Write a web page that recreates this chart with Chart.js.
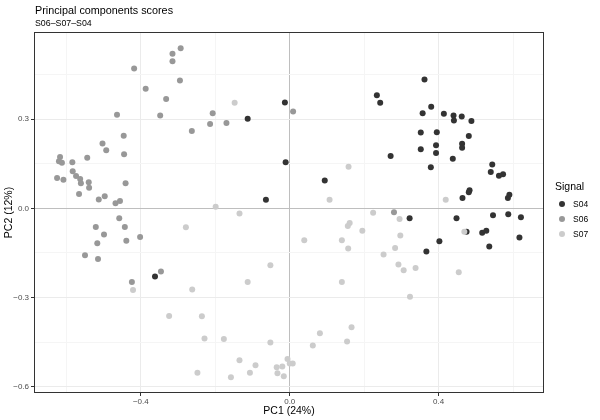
<!DOCTYPE html>
<html>
<head>
<meta charset="utf-8">
<script src="https://cdn.jsdelivr.net/npm/chart.js@4"></script>
<style>
  html, body { margin: 0; padding: 0; background: #fff; }
  #wrap { width: 600px; height: 420px; }
</style>
</head>
<body>
<div id="wrap"><canvas id="chart" width="600" height="420"></canvas></div>
<script>
const seriesNames = ['S04', 'S06', 'S07'];
const seriesColors = ['#333333', '#989898', '#CCCCCC'];

// PC1 / PC2 scores
const s04x = [-0.013, -0.113, -0.011, -0.064, -0.362, 0.362, 0.234, 0.243, 0.380, 0.357, 0.414, 0.440, 0.441, 0.462, 0.488, 0.352,
  0.395, 0.481, 0.463, 0.463, 0.393, 0.352, 0.393, 0.271, 0.438, 0.379, 0.544, 0.540, 0.562, 0.573, 0.094, 0.464,
  0.483, 0.481, 0.586, 0.590, 0.322, 0.448, 0.546, 0.587, 0.621, 0.475, 0.517, 0.528, 0.402, 0.367, 0.536, 0.617];
const s04y = [0.356, 0.301, 0.155, 0.029, -0.229, 0.433, 0.380, 0.355, 0.342, 0.320, 0.318, 0.312, 0.295, 0.309, 0.294, 0.255,
  0.256, 0.243, 0.217, 0.204, 0.212, 0.199, 0.186, 0.176, 0.167, 0.138, 0.147, 0.122, 0.110, 0.115, 0.094, 0.035,
  0.061, 0.054, 0.035, 0.046, -0.033, -0.033, -0.023, -0.020, -0.030, -0.079, -0.082, -0.075, -0.111, -0.145, -0.128, -0.098];

const s06x = [-0.293, -0.315, -0.315, -0.418, -0.295, -0.387, -0.332, 0.009, -0.464, -0.348, -0.207, -0.214, -0.170, -0.263, -0.446, -0.503,
  -0.493, -0.445, -0.617, -0.620, -0.612, -0.584, -0.544, -0.583, -0.574, -0.563, -0.561, -0.540, -0.539, -0.625, -0.608, -0.441,
  -0.566, -0.513, -0.497, -0.468, -0.456, -0.458, -0.521, -0.443, -0.499, -0.517, -0.439, -0.402, -0.550, -0.515, -0.346, -0.424, 0.280];
const s06y = [0.538, 0.520, 0.495, 0.470, 0.430, 0.402, 0.368, 0.326, 0.315, 0.312, 0.320, 0.284, 0.287, 0.260, 0.244, 0.218,
  0.195, 0.182, 0.173, 0.158, 0.153, 0.155, 0.170, 0.125, 0.109, 0.099, 0.084, 0.088, 0.069, 0.102, 0.096, 0.084,
  0.048, 0.030, 0.041, 0.017, 0.025, -0.033, -0.063, -0.063, -0.088, -0.117, -0.109, -0.096, -0.158, -0.170, -0.212, -0.248, -0.013];

const s07x = [-0.148, -0.199, -0.135, -0.279, -0.052, -0.421, -0.262, -0.113, -0.324, -0.236, -0.229, -0.177, -0.052, -0.135, -0.092, -0.006,
  0.008, -0.035, -0.020, -0.248, -0.158, -0.107, -0.033, -0.016, 0.158, 0.107, 0.419, 0.224, 0.295, 0.161, 0.156, 0.195,
  0.039, 0.140, 0.157, 0.297, 0.283, 0.252, 0.292, 0.306, 0.338, 0.469, 0.454, 0.140, 0.323, 0.166, 0.081, 0.062, 0.154, 0.000];
const s07y = [0.355, 0.005, -0.017, -0.064, -0.191, -0.275, -0.273, -0.248, -0.362, -0.363, -0.438, -0.439, -0.451, -0.511, -0.528, -0.507,
  -0.522, -0.534, -0.532, -0.553, -0.568, -0.553, -0.555, -0.565, 0.140, 0.029, 0.029, -0.015, -0.036, -0.049, -0.059, -0.075,
  -0.107, -0.107, -0.135, -0.091, -0.133, -0.155, -0.189, -0.208, -0.201, -0.079, -0.215, -0.248, -0.297, -0.400, -0.420, -0.461, -0.448, -0.522];

const xMin = -0.687, xMax = 0.683;
const yMin = -0.621, yMax = 0.593;

function pts(xs, ys) {
  return xs.map((x, i) => ({ x: x, y: ys[i] }));
}
function fmt(v) {
  return v.toFixed(1).replace('-', '\u2212');
}
function isMajor(v, step) {
  return Math.abs(Math.round(v / step)) % 2 === 0;
}

const allX = [s04x, s06x, s07x];
const allY = [s04y, s06y, s07y];
const datasets = seriesNames.map((name, i) => ({
  label: name,
  data: pts(allX[i], allY[i]),
  backgroundColor: seriesColors[i],
  borderWidth: 0,
  pointRadius: 3,
  order: 2 - i
}));

const FONT = "'Liberation Sans', Arial, sans-serif";

const decor = {
  id: 'decor',
  afterDraw(chart) {
    const ctx = chart.ctx;
    const a = chart.chartArea;
    ctx.save();
    // panel border
    ctx.strokeStyle = '#333333';
    ctx.lineWidth = 1;
    ctx.strokeRect(Math.round(a.left) + 0.5, Math.round(a.top) + 0.5,
      Math.round(a.right - a.left) - 1, Math.round(a.bottom - a.top) - 1);

    // titles
    ctx.fillStyle = '#000';
    ctx.textBaseline = 'alphabetic';
    ctx.textAlign = 'left';
    ctx.font = '10.8px ' + FONT;
    ctx.fillText('Principal components scores', 35, 14);
    ctx.font = '8.8px ' + FONT;
    ctx.fillText('S06\u2013S07\u2013S04', 35, 26);

    // axis titles
    ctx.font = '10.5px ' + FONT;
    ctx.textAlign = 'center';
    ctx.fillText('PC1 (24%)', (a.left + a.right) / 2, 414);
    ctx.save();
    ctx.translate(12, (a.top + a.bottom) / 2);
    ctx.rotate(-Math.PI / 2);
    ctx.fillText('PC2 (12%)', 0, 0);
    ctx.restore();

    // legend
    ctx.textAlign = 'left';
    ctx.font = '10.5px ' + FONT;
    ctx.fillText('Signal', 555, 190);
    ctx.font = '8.5px ' + FONT;
    ctx.textBaseline = 'middle';
    seriesNames.forEach((name, i) => {
      const cy = 204 + i * 15;
      ctx.beginPath();
      ctx.fillStyle = seriesColors[i];
      ctx.arc(562, cy, 3, 0, Math.PI * 2);
      ctx.fill();
      ctx.fillStyle = '#000';
      ctx.fillText(name, 573, cy + 0.5);
    });
    ctx.restore();
  }
};

const config = {
  type: 'scatter',
  data: { datasets },
  options: {
    responsive: false,
    animation: false,
    layout: { padding: { top: 32, right: 56, bottom: 0, left: 0 } },
    plugins: {
      legend: { display: false },
      tooltip: { enabled: false },
      title: { display: false }
    },
    scales: {
      x: {
        type: 'linear',
        min: xMin,
        max: xMax,
        afterFit(scale) { scale.height = 27; },
        border: { display: false },
        grid: {
          color: ctx => ctx.tick && Math.abs(ctx.tick.value) < 1e-9 ? '#BEBEBE'
            : (ctx.tick && isMajor(ctx.tick.value, 0.2) ? '#EBEBEB' : '#F5F5F5'),
          tickColor: ctx => ctx.tick && isMajor(ctx.tick.value, 0.2) ? '#333333' : 'rgba(0,0,0,0)',
          tickLength: 3,
          drawTicks: true
        },
        ticks: {
          stepSize: 0.2,
          includeBounds: false,
          maxRotation: 0,
          autoSkip: false,
          padding: 1,
          color: '#4D4D4D',
          font: { family: FONT, size: 8 },
          callback: v => isMajor(v, 0.2) ? fmt(v) : ''
        }
      },
      y: {
        type: 'linear',
        min: yMin,
        max: yMax,
        afterFit(scale) { scale.width = 34; },
        border: { display: false },
        grid: {
          color: ctx => ctx.tick && Math.abs(ctx.tick.value) < 1e-9 ? '#BEBEBE'
            : (ctx.tick && isMajor(ctx.tick.value, 0.15) ? '#EBEBEB' : '#F5F5F5'),
          tickColor: ctx => ctx.tick && isMajor(ctx.tick.value, 0.15) ? '#333333' : 'rgba(0,0,0,0)',
          tickLength: 3,
          drawTicks: true
        },
        ticks: {
          stepSize: 0.15,
          includeBounds: false,
          autoSkip: false,
          padding: 2,
          color: '#4D4D4D',
          font: { family: FONT, size: 8 },
          callback: v => isMajor(v, 0.15) ? fmt(v) : ''
        }
      }
    }
  },
  plugins: [decor]
};

var chart = document.getElementById('chart');
var myChart = new Chart(chart, config);
</script>
</body>
</html>
